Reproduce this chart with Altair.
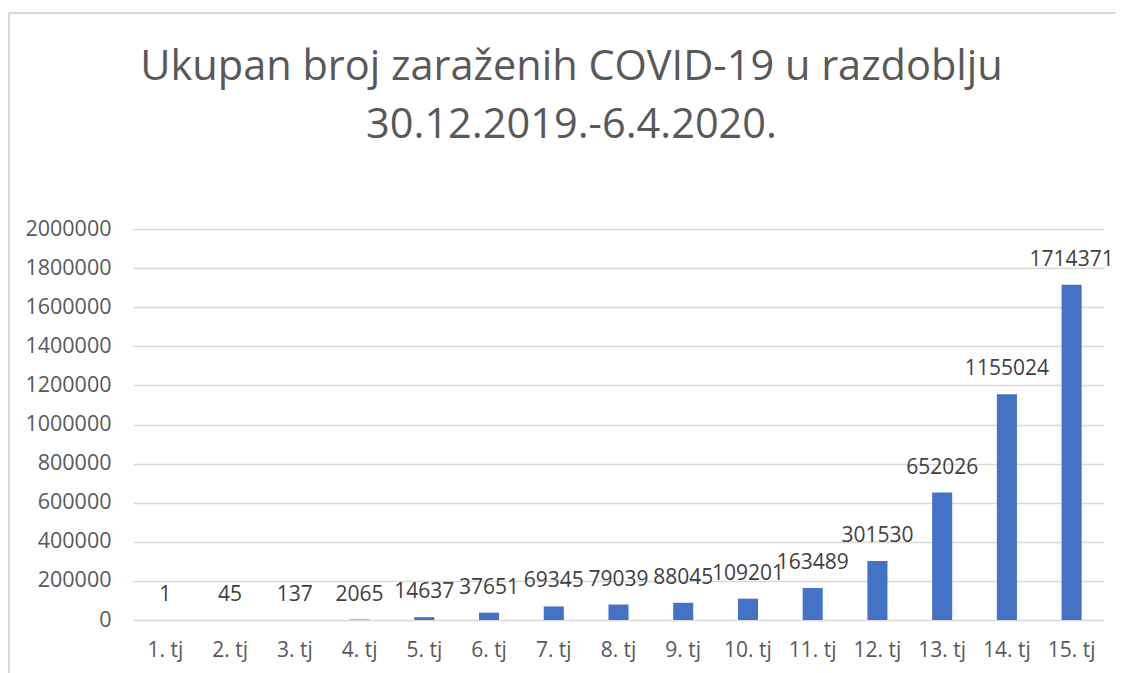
import altair as alt
import pandas as pd

weeks = ["1. tj", "2. tj", "3. tj", "4. tj", "5. tj", "6. tj", "7. tj", "8. tj",
         "9. tj", "10. tj", "11. tj", "12. tj", "13. tj", "14. tj", "15. tj"]
cases = [1, 45, 137, 2065, 14637, 37651, 69345, 79039, 88045, 109201,
         163489, 301530, 652026, 1155024, 1714371]
y_ticks = list(range(0, 2000001, 200000))

df = pd.DataFrame({"week": weeks, "cases": cases})

FONT = "Open Sans"

x_enc = alt.X("week:N", sort=weeks, title=None,
              scale=alt.Scale(paddingInner=0.69, paddingOuter=0.345),
              axis=alt.Axis(labelAngle=0, labelFontSize=21, labelColor="#595959",
                            labelFont=FONT, ticks=False, domain=False, labelPadding=19,
                            grid=False))
y_enc = alt.Y("cases:Q", title=None,
              scale=alt.Scale(domain=[0, 2000000], nice=False),
              axis=alt.Axis(values=y_ticks, labelFontSize=21.5, labelColor="#595959",
                            labelFont=FONT, ticks=False, domain=False, labelPadding=22,
                            labelOverlap=False,
                            gridColor="#d9d9d9", gridWidth=1.3, format="d"))

base = alt.Chart(df)

bars = base.mark_bar(color="#4472C4").encode(x=x_enc, y=y_enc)

labels = base.mark_text(font=FONT, fontSize=21, color="#404040",
                        baseline="alphabetic", dy=-19).encode(
    x=x_enc,
    y=y_enc,
    text=alt.Text("cases:Q", format="d"),
)

frame_top = base.mark_rule(color="#d9d9d9", strokeWidth=1.5).encode(
    x=alt.value(-124), x2=alt.value(985), y=alt.value(-216)
)
frame_left = base.mark_rule(color="#d9d9d9", strokeWidth=1.5).encode(
    x=alt.value(-124), y=alt.value(-216), y2=alt.value(460)
)

chart = alt.layer(bars, labels, frame_top, frame_left).properties(
    width=971, height=391,
    padding={"left": 125, "top": 221, "right": 12, "bottom": 53},
    autosize=alt.AutoSizeParams(type="none"),
    title=alt.Title(["Ukupan broj zaraženih COVID-19 u razdoblju", "30.12.2019.-6.4.2020."],
                    font=FONT, fontSize=41.5, fontWeight="normal", color="#595959",
                    anchor="middle", offset=-134, lineHeight=58, dx=-47),
).configure_view(stroke=None).configure_axisY(labelOverlap=False)

chart.save("out.html", embed_options={"renderer": "svg", "actions": False})
